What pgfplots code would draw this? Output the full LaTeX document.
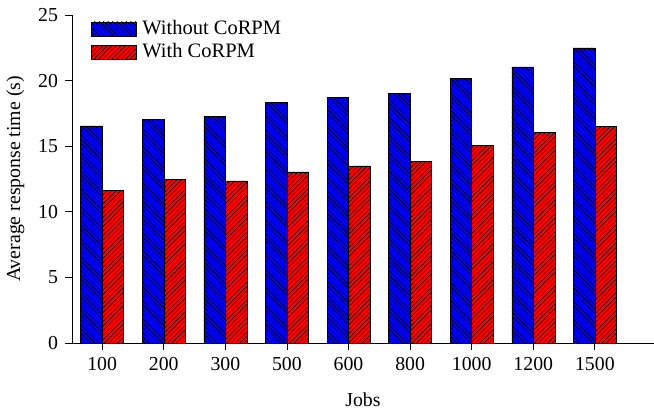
\documentclass[border=0pt]{standalone}
\usepackage{fontspec}
\setmainfont{Liberation Serif}
\usepackage{pgfplots}
\pgfplotsset{compat=1.18}
\usetikzlibrary{patterns.meta}
\pgfplotsset{
  mylegend/.style={legend image code/.code={\draw[##1] (0pt,-7pt) rectangle (45pt,7pt); \path (49pt,0pt);}},
}
\begin{document}
\fontsize{20.3}{23}\selectfont
\begin{tikzpicture}
\begin{axis}[
  name=ax,
  scale only axis,
  width=582pt, height=328pt,
  xmin=-0.49, xmax=8.96, ymin=0, ymax=25,
  axis x line*=bottom, axis y line*=left,
  axis line style={line width=0.8pt, -},
  ybar=0pt, bar width=21.5pt,
  xtick={0,...,8},
  xticklabels={100,200,300,500,600,800,1000,1200,1500},
  ytick={0,5,...,25},
  tick align=outside, major tick length=7pt,
  tick style={black, line width=0.8pt},
  /pgf/number format/assume math mode=true,
  tick label style={font=\fontsize{19.8}{23}\selectfont},
  label style={font=\fontsize{19.8}{23}\selectfont},
  xlabel={Jobs}, ylabel={Average response time (s)},
  xlabel style={yshift=-9pt},
  legend style={draw=none, fill=none, at={(rel axis cs:0.027,0.997)}, anchor=north west,
    font=\fontsize{20.5}{23}\selectfont, row sep=2pt},
  legend cell align=left,
]
\addplot[fill=blue, draw=black, line width=0.5pt,
  postaction={pattern={Lines[angle=-45,distance=3.2pt,line width=0.5pt]}, pattern color=black},
  mylegend]
  coordinates {(0,16.55) (1,17.05) (2,17.25) (3,18.35) (4,18.72) (5,19.0) (6,20.15) (7,21.05) (8,22.5)};
\addplot[fill=red, draw=black, line width=0.5pt,
  postaction={pattern={Lines[angle=45,distance=3.2pt,line width=0.5pt]}, pattern color=black},
  mylegend]
  coordinates {(0,11.65) (1,12.45) (2,12.35) (3,13.05) (4,13.5) (5,13.85) (6,15.05) (7,16.05) (8,16.5)};
\legend{Without CoRPM, With CoRPM}
\end{axis}
\pgfresetboundingbox
\path[use as bounding box] ([shift={(-72pt,-68pt)}]ax.south west) rectangle ([shift={(0pt,15pt)}]ax.north east);
\end{tikzpicture}
\end{document}
